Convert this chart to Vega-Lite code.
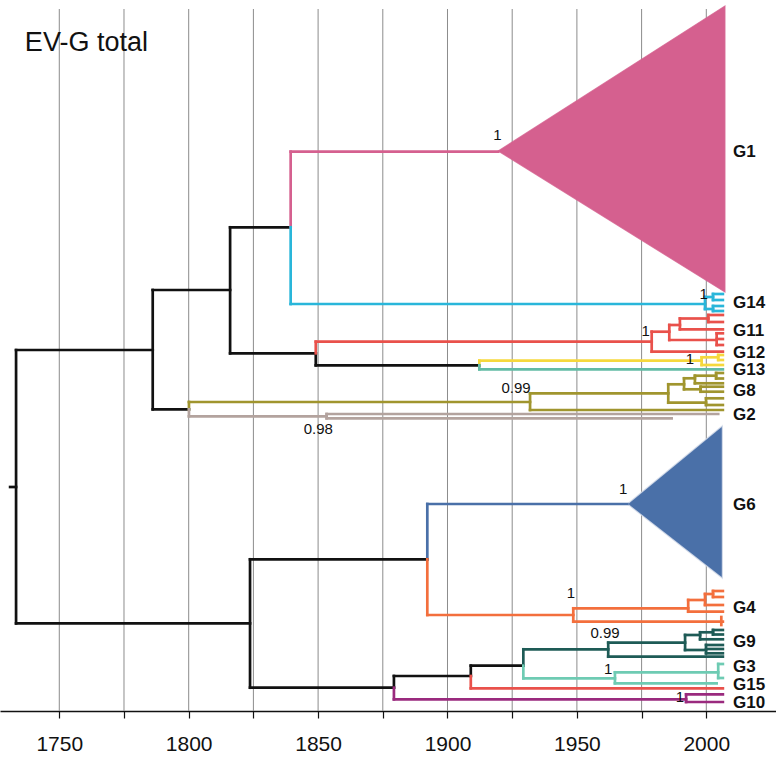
{
  "$schema": "https://vega.github.io/schema/vega-lite/v6.json",
  "width": 776,
  "height": 711,
  "autosize": {"type": "none"},
  "padding": {"left": 0, "right": 0, "top": 0, "bottom": 47},
  "background": "white",
  "config": {"view": {"stroke": null}, "font": "Liberation Sans"},
  "datasets": {
    "grid": [{"yr":1750},{"yr":1775},{"yr":1800},{"yr":1825},{"yr":1850},{"yr":1875},{"yr":1900},{"yr":1925},{"yr":1950},{"yr":1975},{"yr":2000}],
    "tris": [
      {"x":1919.6,"y":151,"y2":151,"g":"pink"},
      {"x":2007.2,"y":6,"y2":292,"g":"pink"},
      {"x":1969.5,"y":504,"y2":504,"g":"blue"},
      {"x":2006.2,"y":425.7,"y2":578.3,"g":"blue"}
    ],
    "segs": [
      {"x":1731.0,"x2":1733.3,"y":487,"y2":487,"g":"black"},
      {"x":1733.3,"x2":1733.3,"y":350,"y2":623.3,"g":"black"},
      {"x":1733.3,"x2":1786.1,"y":350,"y2":350,"g":"black"},
      {"x":1733.3,"x2":1823.7,"y":623.3,"y2":623.3,"g":"black"},
      {"x":1786.1,"x2":1786.1,"y":290,"y2":409.3,"g":"black"},
      {"x":1786.1,"x2":1816.0,"y":290,"y2":290,"g":"black"},
      {"x":1786.1,"x2":1800.1,"y":409.3,"y2":409.3,"g":"black"},
      {"x":1816.0,"x2":1816.0,"y":227.3,"y2":353.3,"g":"black"},
      {"x":1816.0,"x2":1839.4,"y":227.3,"y2":227.3,"g":"black"},
      {"x":1816.0,"x2":1849.1,"y":353.3,"y2":353.3,"g":"black"},
      {"x":1849.1,"x2":1849.1,"y":353.3,"y2":365.3,"g":"black"},
      {"x":1849.1,"x2":1912.3,"y":365.3,"y2":365.3,"g":"black"},
      {"x":1823.7,"x2":1823.7,"y":559.3,"y2":687.7,"g":"black"},
      {"x":1823.7,"x2":1892.2,"y":559.3,"y2":559.3,"g":"black"},
      {"x":1823.7,"x2":1879.3,"y":687.7,"y2":687.7,"g":"black"},
      {"x":1879.3,"x2":1879.3,"y":676,"y2":687.7,"g":"black"},
      {"x":1879.3,"x2":1909.0,"y":676,"y2":676,"g":"black"},
      {"x":1909.0,"x2":1909.0,"y":665.7,"y2":676,"g":"black"},
      {"x":1909.0,"x2":1929.3,"y":665.7,"y2":665.7,"g":"black"},

      {"x":1839.4,"x2":1839.4,"y":151.7,"y2":227.3,"g":"pink"},
      {"x":1839.4,"x2":1919.6,"y":151.7,"y2":151.7,"g":"pink"},

      {"x":1839.4,"x2":1839.4,"y":227.3,"y2":304,"g":"cyan"},
      {"x":1839.4,"x2":1999.5,"y":304,"y2":304,"g":"cyan"},
      {"x":1999.5,"x2":1999.5,"y":297,"y2":309,"g":"cyan"},
      {"x":1999.5,"x2":2002.6,"y":297,"y2":297,"g":"cyan"},
      {"x":2002.6,"x2":2002.6,"y":294,"y2":300,"g":"cyan"},
      {"x":2002.6,"x2":2006.4,"y":294,"y2":294,"g":"cyan"},
      {"x":2002.6,"x2":2006.4,"y":300,"y2":300,"g":"cyan"},
      {"x":1999.5,"x2":2002.6,"y":309,"y2":309,"g":"cyan"},
      {"x":2002.6,"x2":2002.6,"y":306,"y2":311,"g":"cyan"},
      {"x":2002.6,"x2":2006.4,"y":306,"y2":306,"g":"cyan"},
      {"x":2002.6,"x2":2006.4,"y":311,"y2":311,"g":"cyan"},

      {"x":1849.1,"x2":1849.1,"y":341.7,"y2":353.3,"g":"red"},
      {"x":1849.1,"x2":1978.9,"y":341.7,"y2":341.7,"g":"red"},
      {"x":1978.9,"x2":1978.9,"y":331.7,"y2":351.7,"g":"red"},
      {"x":1978.9,"x2":2006.4,"y":351.7,"y2":351.7,"g":"red"},
      {"x":1978.9,"x2":1985.7,"y":331.7,"y2":331.7,"g":"red"},
      {"x":1985.7,"x2":1985.7,"y":325,"y2":340,"g":"red"},
      {"x":1985.7,"x2":2004.0,"y":340,"y2":340,"g":"red"},
      {"x":2004.0,"x2":2004.0,"y":333.3,"y2":345,"g":"red"},
      {"x":2004.0,"x2":2006.4,"y":333.3,"y2":333.3,"g":"red"},
      {"x":2004.0,"x2":2006.4,"y":339,"y2":339,"g":"red"},
      {"x":2004.0,"x2":2006.4,"y":345,"y2":345,"g":"red"},
      {"x":1985.7,"x2":1989.8,"y":325,"y2":325,"g":"red"},
      {"x":1989.8,"x2":1989.8,"y":318.5,"y2":329.3,"g":"red"},
      {"x":1989.8,"x2":2006.4,"y":329.3,"y2":329.3,"g":"red"},
      {"x":1989.8,"x2":2000.8,"y":318.5,"y2":318.5,"g":"red"},
      {"x":2000.8,"x2":2000.8,"y":315,"y2":322,"g":"red"},
      {"x":2000.8,"x2":2006.4,"y":315,"y2":315,"g":"red"},
      {"x":2000.8,"x2":2006.4,"y":322,"y2":322,"g":"red"},

      {"x":1912.3,"x2":1912.3,"y":360.7,"y2":365.3,"g":"yellow"},
      {"x":1912.3,"x2":1998.2,"y":360.7,"y2":360.7,"g":"yellow"},
      {"x":1998.2,"x2":1998.2,"y":357.3,"y2":365,"g":"yellow"},
      {"x":1998.2,"x2":2006.4,"y":365,"y2":365,"g":"yellow"},
      {"x":1998.2,"x2":2004.6,"y":357.3,"y2":357.3,"g":"yellow"},
      {"x":2004.6,"x2":2004.6,"y":355,"y2":360,"g":"yellow"},
      {"x":2004.6,"x2":2006.4,"y":355,"y2":355,"g":"yellow"},
      {"x":2004.6,"x2":2006.4,"y":360,"y2":360,"g":"yellow"},

      {"x":1912.3,"x2":1912.3,"y":365.3,"y2":369.3,"g":"teal"},
      {"x":1912.3,"x2":2006.4,"y":369.3,"y2":369.3,"g":"teal"},

      {"x":1800.1,"x2":1800.1,"y":402,"y2":409.3,"g":"olive"},
      {"x":1800.1,"x2":1931.9,"y":402,"y2":402,"g":"olive"},
      {"x":1931.9,"x2":1931.9,"y":393.3,"y2":410,"g":"olive"},
      {"x":1931.9,"x2":2006.4,"y":410,"y2":410,"g":"olive"},
      {"x":1931.9,"x2":1985.3,"y":393.3,"y2":393.3,"g":"olive"},
      {"x":1985.3,"x2":1985.3,"y":384.3,"y2":402.7,"g":"olive"},
      {"x":1985.3,"x2":1991.4,"y":384.3,"y2":384.3,"g":"olive"},
      {"x":1991.4,"x2":1991.4,"y":378.3,"y2":389.3,"g":"olive"},
      {"x":1991.4,"x2":1995.6,"y":378.3,"y2":378.3,"g":"olive"},
      {"x":1995.6,"x2":1995.6,"y":375.7,"y2":383.3,"g":"olive"},
      {"x":1995.6,"x2":2003.8,"y":375.7,"y2":375.7,"g":"olive"},
      {"x":2003.8,"x2":2003.8,"y":373,"y2":378.5,"g":"olive"},
      {"x":2003.8,"x2":2006.4,"y":373,"y2":373,"g":"olive"},
      {"x":2003.8,"x2":2006.4,"y":378.5,"y2":378.5,"g":"olive"},
      {"x":1995.6,"x2":2006.4,"y":383.3,"y2":383.3,"g":"olive"},
      {"x":1991.4,"x2":1997.8,"y":389.3,"y2":389.3,"g":"olive"},
      {"x":1997.8,"x2":1997.8,"y":386.7,"y2":391.7,"g":"olive"},
      {"x":1997.8,"x2":2006.4,"y":386.7,"y2":386.7,"g":"olive"},
      {"x":1997.8,"x2":2006.4,"y":391.7,"y2":391.7,"g":"olive"},
      {"x":1985.3,"x2":1999.9,"y":402.7,"y2":402.7,"g":"olive"},
      {"x":1999.9,"x2":1999.9,"y":398.3,"y2":405,"g":"olive"},
      {"x":1999.9,"x2":2006.4,"y":398.3,"y2":398.3,"g":"olive"},
      {"x":1999.9,"x2":2006.4,"y":405,"y2":405,"g":"olive"},

      {"x":1800.1,"x2":1800.1,"y":409.3,"y2":416.3,"g":"grey"},
      {"x":1800.1,"x2":1853.3,"y":416.3,"y2":416.3,"g":"grey"},
      {"x":1853.3,"x2":1853.3,"y":414,"y2":418.3,"g":"grey"},
      {"x":1853.3,"x2":2004.6,"y":414,"y2":414,"g":"grey"},
      {"x":1853.3,"x2":1986.6,"y":418.3,"y2":418.3,"g":"grey"},

      {"x":1892.2,"x2":1892.2,"y":504,"y2":559.3,"g":"blue"},
      {"x":1892.2,"x2":1969.5,"y":504,"y2":504,"g":"blue"},

      {"x":1892.2,"x2":1892.2,"y":559.3,"y2":615,"g":"orange"},
      {"x":1892.2,"x2":1948.6,"y":615,"y2":615,"g":"orange"},
      {"x":1948.6,"x2":1948.6,"y":608.3,"y2":621.7,"g":"orange"},
      {"x":1948.6,"x2":2006.4,"y":621.7,"y2":621.7,"g":"orange"},
      {"x":2005.8,"x2":2005.8,"y":617,"y2":625,"g":"orange"},
      {"x":1948.6,"x2":1993.0,"y":608.3,"y2":608.3,"g":"orange"},
      {"x":1993.0,"x2":1993.0,"y":600,"y2":611.7,"g":"orange"},
      {"x":1993.0,"x2":2006.4,"y":611.7,"y2":611.7,"g":"orange"},
      {"x":1993.0,"x2":1999.5,"y":600,"y2":600,"g":"orange"},
      {"x":1999.5,"x2":1999.5,"y":594,"y2":605,"g":"orange"},
      {"x":1999.5,"x2":2006.4,"y":605,"y2":605,"g":"orange"},
      {"x":1999.5,"x2":2002.6,"y":594,"y2":594,"g":"orange"},
      {"x":2002.6,"x2":2002.6,"y":591,"y2":597,"g":"orange"},
      {"x":2002.6,"x2":2006.4,"y":591,"y2":591,"g":"orange"},
      {"x":2002.6,"x2":2006.4,"y":597,"y2":597,"g":"orange"},

      {"x":1929.3,"x2":1929.3,"y":649.3,"y2":665.7,"g":"dteal"},
      {"x":1929.3,"x2":1962.1,"y":649.3,"y2":649.3,"g":"dteal"},
      {"x":1962.1,"x2":1962.1,"y":642.7,"y2":656.7,"g":"dteal"},
      {"x":1962.1,"x2":2006.4,"y":656.7,"y2":656.7,"g":"dteal"},
      {"x":1962.1,"x2":1991.8,"y":642.7,"y2":642.7,"g":"dteal"},
      {"x":1991.8,"x2":1991.8,"y":635,"y2":650,"g":"dteal"},
      {"x":1991.8,"x2":1997.6,"y":635,"y2":635,"g":"dteal"},
      {"x":1997.6,"x2":1997.6,"y":632.3,"y2":639.3,"g":"dteal"},
      {"x":1997.6,"x2":2006.4,"y":639.3,"y2":639.3,"g":"dteal"},
      {"x":1997.6,"x2":2002.6,"y":632.3,"y2":632.3,"g":"dteal"},
      {"x":2002.6,"x2":2002.6,"y":630,"y2":634.5,"g":"dteal"},
      {"x":2002.6,"x2":2006.4,"y":630,"y2":630,"g":"dteal"},
      {"x":2002.6,"x2":2006.4,"y":634.5,"y2":634.5,"g":"dteal"},
      {"x":1991.8,"x2":1999.9,"y":650,"y2":650,"g":"dteal"},
      {"x":1999.9,"x2":1999.9,"y":645,"y2":653.3,"g":"dteal"},
      {"x":1999.9,"x2":2006.4,"y":645,"y2":645,"g":"dteal"},
      {"x":1999.9,"x2":2006.4,"y":649,"y2":649,"g":"dteal"},
      {"x":1999.9,"x2":2006.4,"y":653.3,"y2":653.3,"g":"dteal"},

      {"x":1929.3,"x2":1929.3,"y":665.7,"y2":678.3,"g":"lteal"},
      {"x":1929.3,"x2":1964.7,"y":678.3,"y2":678.3,"g":"lteal"},
      {"x":1964.7,"x2":1964.7,"y":672.3,"y2":683.3,"g":"lteal"},
      {"x":1964.7,"x2":2004.6,"y":672.3,"y2":672.3,"g":"lteal"},
      {"x":2004.6,"x2":2004.6,"y":664,"y2":678,"g":"lteal"},
      {"x":2004.6,"x2":2006.4,"y":664,"y2":664,"g":"lteal"},
      {"x":2004.6,"x2":2006.4,"y":678,"y2":678,"g":"lteal"},
      {"x":1964.7,"x2":2004.0,"y":683.3,"y2":683.3,"g":"lteal"},

      {"x":1909.0,"x2":1909.0,"y":676,"y2":688.3,"g":"red"},
      {"x":1909.0,"x2":2006.4,"y":688.3,"y2":688.3,"g":"red"},

      {"x":1879.3,"x2":1879.3,"y":687.7,"y2":699.3,"g":"purple"},
      {"x":1879.3,"x2":1992.2,"y":699.3,"y2":699.3,"g":"purple"},
      {"x":1992.2,"x2":1992.2,"y":694.3,"y2":702,"g":"purple"},
      {"x":1992.2,"x2":2006.4,"y":694.3,"y2":694.3,"g":"purple"},
      {"x":1992.2,"x2":2006.4,"y":702,"y2":702,"g":"purple"}
    ],
    "tips": [
      {"x":2010.3,"y":152,"t":"G1"},
      {"x":2010.3,"y":303,"t":"G14"},
      {"x":2010.3,"y":331,"t":"G11"},
      {"x":2010.3,"y":353,"t":"G12"},
      {"x":2010.3,"y":370,"t":"G13"},
      {"x":2010.3,"y":391,"t":"G8"},
      {"x":2010.3,"y":415,"t":"G2"},
      {"x":2010.3,"y":505,"t":"G6"},
      {"x":2010.3,"y":608,"t":"G4"},
      {"x":2010.3,"y":642,"t":"G9"},
      {"x":2010.3,"y":667,"t":"G3"},
      {"x":2010.3,"y":685,"t":"G15"},
      {"x":2010.3,"y":703,"t":"G10"}
    ],
    "supp": [
      {"x":1919.3,"y":135,"t":"1"},
      {"x":1999.0,"y":294,"t":"1"},
      {"x":1976.6,"y":331,"t":"1"},
      {"x":1993.7,"y":359,"t":"1"},
      {"x":1926.5,"y":388,"t":"0.99"},
      {"x":1850.1,"y":429,"t":"0.98"},
      {"x":1967.9,"y":489,"t":"1"},
      {"x":1947.7,"y":593,"t":"1"},
      {"x":1960.9,"y":633,"t":"0.99"},
      {"x":1962.1,"y":669,"t":"1"},
      {"x":1989.8,"y":697,"t":"1"}
    ],
    "ttl": [{"x":1736.7,"y":43,"t":"EV-G total"}]
  },
  "encoding": {},
  "layer": [
    {
      "data": {"name": "grid"},
      "mark": {"type": "rule", "color": "#8c8c8c", "strokeWidth": 1},
      "encoding": {
        "x": {"field": "yr", "type": "quantitative", "scale": {"domain": [1727.09, 2026.93], "nice": false, "zero": false},
              "axis": {"values": [1750,1775,1800,1825,1850,1875,1900,1925,1950,1975,2000], "format": "d",
                       "labelExpr": "datum.value % 50 === 0 ? datum.label : ''", "title": null, "grid": false,
                       "domainColor": "#111111", "domainWidth": 1.5, "tickColor": "#111111", "tickWidth": 1.2, "tickSize": 7,
                       "labelFontSize": 21, "labelColor": "#111111", "labelPadding": 15, "labelFont": "Liberation Sans"}},
        "y": {"datum": 9, "type": "quantitative", "scale": {"domain": [0, 711], "reverse": true, "nice": false, "zero": false}, "axis": null},
        "y2": {"datum": 711}
      }
    },
    {
      "data": {"name": "tris"},
      "mark": {"type": "area", "orient": "vertical", "strokeWidth": 1.2, "strokeOpacity": 0.8},
      "encoding": {
        "x": {"field": "x", "type": "quantitative"},
        "y": {"field": "y", "type": "quantitative"},
        "y2": {"field": "y2"},
        "fill": {"field": "g", "type": "nominal", "scale": {"domain": ["pink","blue"], "range": ["#D5608F","#4A70A8"]}, "legend": null},
        "stroke": {"field": "g", "type": "nominal", "scale": {"domain": ["pink","blue"], "range": ["#D5608F","#D9E0EC"]}, "legend": null},
        "fillOpacity": {"value": 1}
      }
    },
    {
      "data": {"name": "segs"},
      "mark": {"type": "rule", "strokeWidth": 2.7, "strokeCap": "square"},
      "encoding": {
        "x": {"field": "x", "type": "quantitative"},
        "x2": {"field": "x2"},
        "y": {"field": "y", "type": "quantitative"},
        "y2": {"field": "y2"},
        "color": {"field": "g", "type": "nominal", "legend": null,
                  "scale": {"domain": ["black","pink","cyan","red","yellow","teal","olive","grey","blue","orange","dteal","lteal","purple"],
                            "range": ["#111111","#D5608F","#29B6DA","#E9514B","#F6D83C","#62BBA5","#A0952E","#B3A39E","#4A70A8","#F36F3D","#1E5B56","#6ECBB3","#9A2A7E"]}}
      }
    },
    {
      "data": {"name": "tips"},
      "mark": {"type": "text", "align": "left", "baseline": "middle", "fontSize": 17, "fontWeight": "bold", "font": "Liberation Sans", "color": "#111111"},
      "encoding": {
        "x": {"field": "x", "type": "quantitative"},
        "y": {"field": "y", "type": "quantitative"},
        "text": {"field": "t"}
      }
    },
    {
      "data": {"name": "supp"},
      "mark": {"type": "text", "align": "center", "baseline": "middle", "fontSize": 15, "font": "Liberation Sans", "color": "#111111"},
      "encoding": {
        "x": {"field": "x", "type": "quantitative"},
        "y": {"field": "y", "type": "quantitative"},
        "text": {"field": "t"}
      }
    },
    {
      "data": {"name": "ttl"},
      "mark": {"type": "text", "align": "left", "baseline": "middle", "fontSize": 27, "font": "Liberation Sans", "color": "#111111"},
      "encoding": {
        "x": {"field": "x", "type": "quantitative"},
        "y": {"field": "y", "type": "quantitative"},
        "text": {"field": "t"}
      }
    }
  ]
}
